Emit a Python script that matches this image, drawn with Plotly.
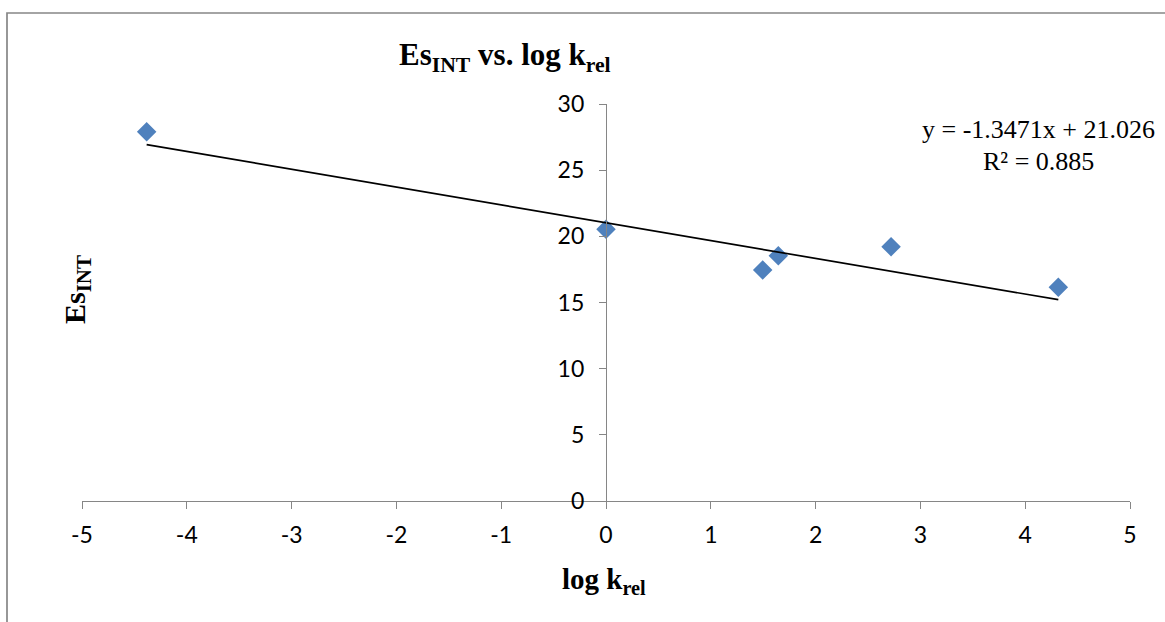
import plotly.graph_objects as go

# Data
log_krel = [-4.383, 0.0, 1.495, 1.644, 2.720, 4.316]
es_int = [27.91, 20.53, 17.46, 18.54, 19.22, 16.15]

# Linear trendline coefficients shown on chart
slope = -1.3471
intercept = 21.026
r2 = 0.885

x_ticks = [-5, -4, -3, -2, -1, 0, 1, 2, 3, 4, 5]
y_ticks = [0, 5, 10, 15, 20, 25, 30]

x_line = [min(log_krel), max(log_krel)]
y_line = [slope * v + intercept for v in x_line]

fig = go.Figure()
fig.add_trace(go.Scatter(
    x=log_krel, y=es_int, mode="markers",
    marker=dict(symbol="diamond", size=15, color="#4F81BD"),
    showlegend=False, cliponaxis=False,
))
fig.add_trace(go.Scatter(
    x=x_line, y=y_line, mode="lines",
    line=dict(color="black", width=1.7),
    showlegend=False,
))

L, R, T, B = 82, 35, 104, 121
W, H = 1165, 622
pw, ph = W - L - R, H - T - B

def px(xp):
    return (xp - L) / pw

def py(yp):
    return (H - B - yp) / ph

tick_font = dict(family="Lato, Calibri, sans-serif", size=23, color="black")
serif = "Liberation Serif, Times New Roman, serif"

fig.update_layout(
    width=W, height=H,
    margin=dict(l=L, r=R, t=T, b=B),
    paper_bgcolor="white", plot_bgcolor="white",
    xaxis=dict(
        range=[-5, 5], tickvals=x_ticks, ticktext=[str(v) for v in x_ticks],
        showgrid=False, zeroline=False, showline=True, linecolor="#868686", linewidth=1.3,
        ticks="outside", ticklen=7, tickcolor="#868686", tickwidth=1.3,
        tickfont=tick_font, anchor="y", ticklabelstandoff=6,
    ),
    yaxis=dict(
        range=[0, 30], tickvals=y_ticks, ticktext=[str(v) for v in y_ticks],
        showgrid=False, zeroline=False, showline=True, linecolor="#868686", linewidth=1.3,
        ticks="outside", ticklen=7, tickcolor="#868686", tickwidth=1.3,
        tickfont=tick_font, anchor="free", position=0.5, ticklabelstandoff=10,
    ),
    shapes=[dict(
        type="rect", xref="paper", yref="paper",
        x0=px(7), x1=px(1170), y0=py(630), y1=py(13),
        line=dict(color="#868686", width=1.7), fillcolor="rgba(0,0,0,0)", layer="below",
    )],
    annotations=[
        dict(text="<b>Es<sub>INT</sub> vs. log k<sub>rel</sub></b>", xref="paper", yref="paper",
             x=px(505), y=py(57), showarrow=False, xanchor="center", yanchor="middle",
             font=dict(family=serif, size=31, color="black")),
        dict(text="<b>log k<sub>rel</sub></b>", xref="paper", yref="paper",
             x=px(604), y=py(581), showarrow=False, xanchor="center", yanchor="middle",
             font=dict(family=serif, size=29, color="black")),
        dict(text="<b>Es<sub>INT</sub></b>", xref="paper", yref="paper",
             x=px(77), y=py(290), showarrow=False, xanchor="center", yanchor="middle",
             textangle=-90, font=dict(family=serif, size=30, color="black")),
        dict(text=f"y = {slope}x + {intercept}", xref="paper", yref="paper",
             x=px(1038), y=py(129), showarrow=False, xanchor="center", yanchor="middle",
             font=dict(family=serif, size=26, color="black")),
        dict(text=f"R² = {r2}", xref="paper", yref="paper",
             x=px(1038), y=py(161), showarrow=False, xanchor="center", yanchor="middle",
             font=dict(family=serif, size=26, color="black")),
    ],
)

fig.write_html("out.html")
